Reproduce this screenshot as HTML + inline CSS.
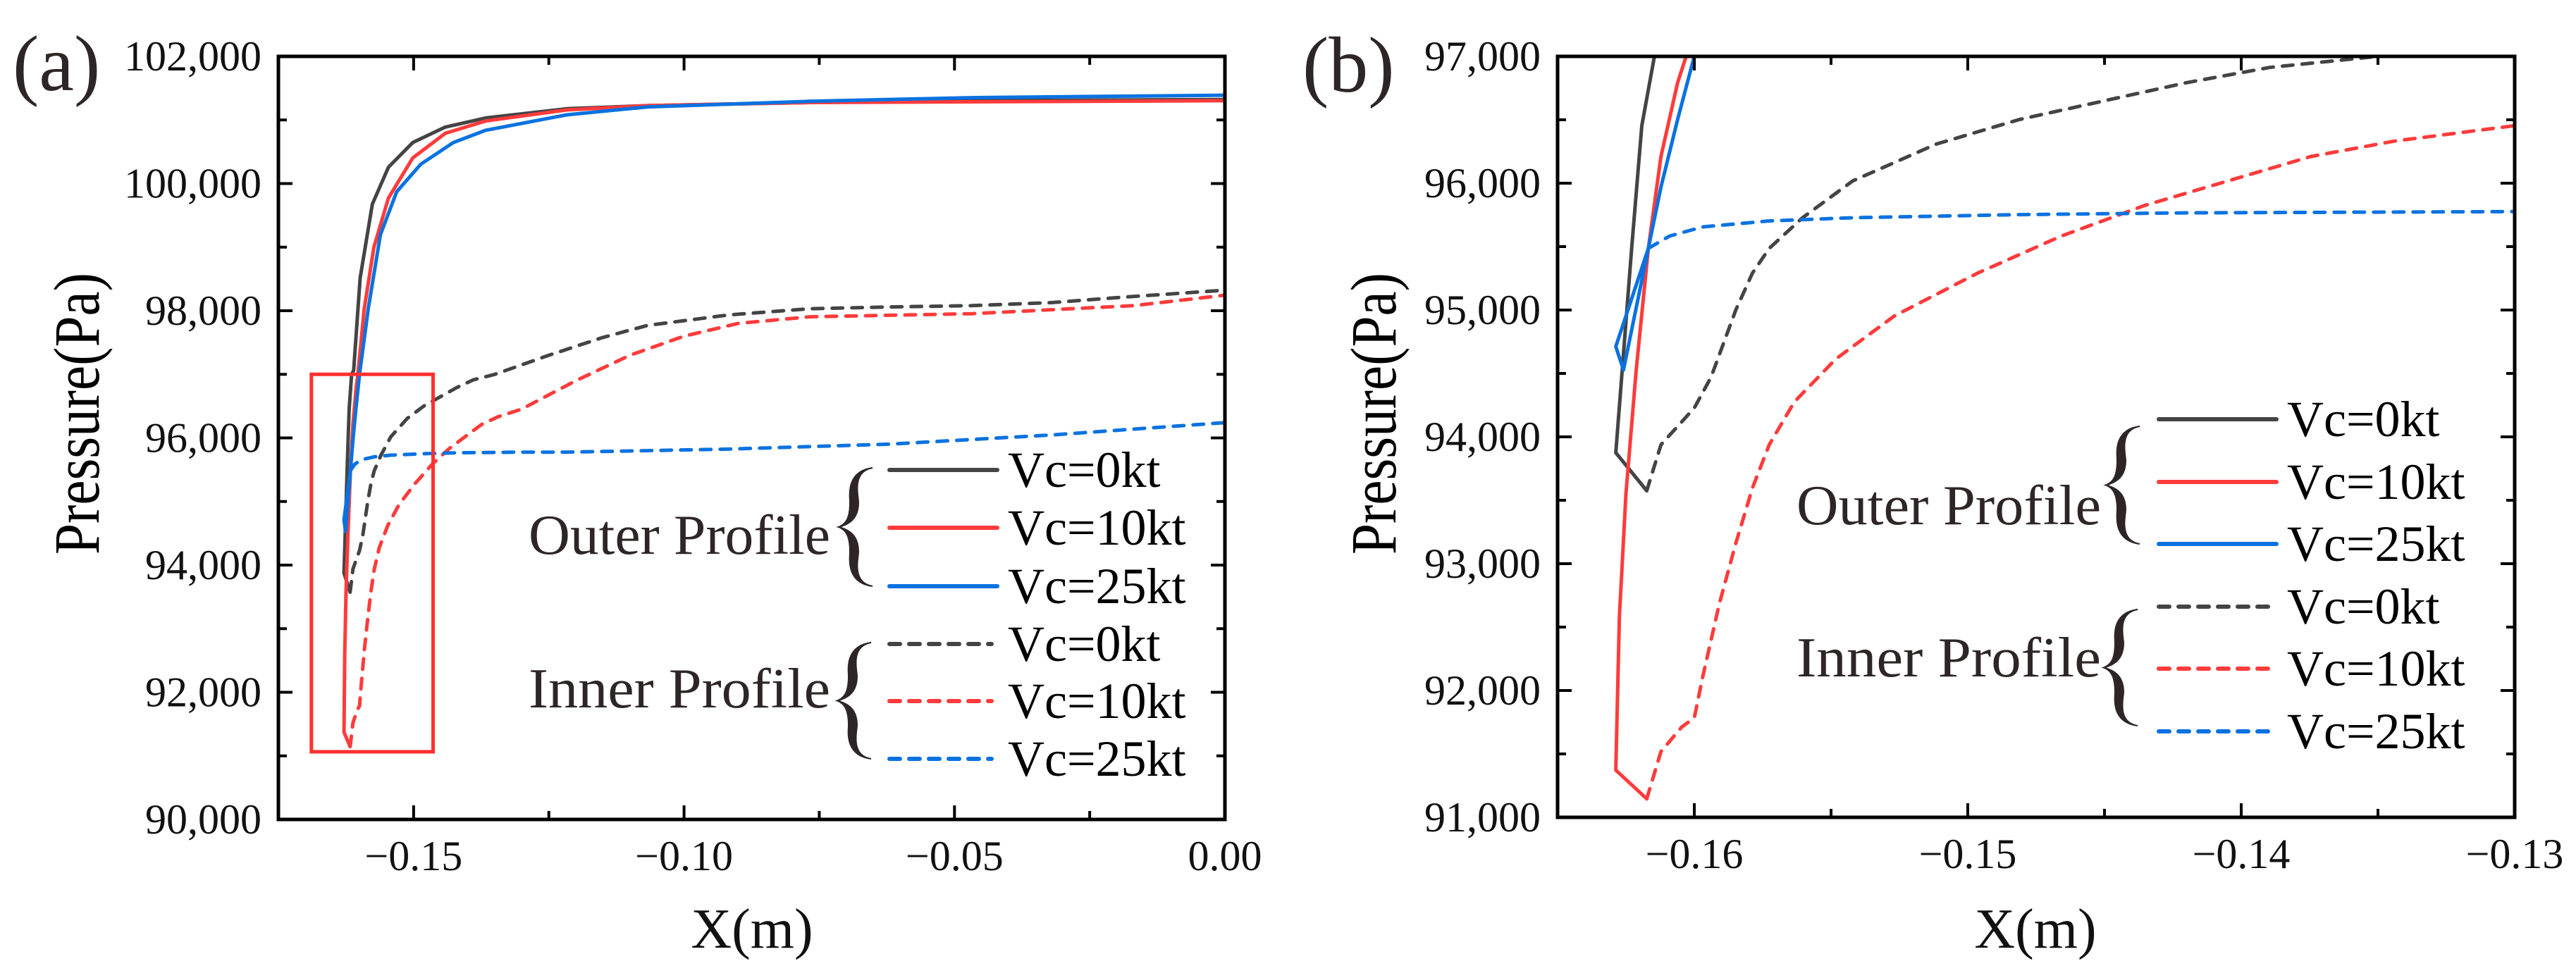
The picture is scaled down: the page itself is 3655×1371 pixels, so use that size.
<!DOCTYPE html>
<html><head><meta charset="utf-8"><style>
html,body{margin:0;padding:0;background:#fff;}
svg{display:block;}
text{font-family:"Liberation Serif","Times New Roman",serif;}
</style></head><body>
<svg id="chart" width="3655" height="1371" viewBox="0 0 3655 1371" xmlns="http://www.w3.org/2000/svg">
<defs>
<clipPath id="clipA"><rect x="395" y="80" width="1343" height="1083"/></clipPath>
<clipPath id="clipB"><rect x="2210" y="80" width="1358" height="1080"/></clipPath>
</defs>
<g id="panelA"></g>
<g id="panelB"></g>
</svg>
<script>
// ---- data (x in m, pressure in Pa) ----
const outer0X = [-0.16174,-0.16287,-0.16229,-0.16192,-0.16146,-0.16108,-0.15988,-0.15763,-0.15464,-0.15015,-0.14416,-0.13668,-0.12171,-0.10674,-0.0768,-0.04686,0];
const outer0Y = [93575,93875,95486,96453,97000,97063,98515,99677,100258,100645,100887,101032,101177,101226,101274,101303,101322];
const outer10X = [-0.16174,-0.16287,-0.16274,-0.1625,-0.16213,-0.16168,-0.16122,-0.16061,-0.1603,-0.15913,-0.15734,-0.15464,-0.15015,-0.14416,-0.13668,-0.12171,-0.10674,-0.0768,0];
const outer10Y = [91146,91373,92583,93551,94518,95486,96211,96792,97000,98031,99000,99774,100403,100790,100984,101158,101226,101274,101303];
const outer25X = [-0.16168,-0.16259,-0.16287,-0.16168,-0.16122,-0.16061,-0.16,-0.15838,-0.15614,-0.15314,-0.14865,-0.14266,-0.13668,-0.12171,-0.10674,-0.0768,-0.0468,0];
const outer25Y = [95486,94528,94712,95486,95970,96502,97000,98031,99193,99870,100306,100645,100838,101080,101206,101293,101351,101390];
const inner0X = [-0.16174,-0.16122,-0.16,-0.15939,-0.15848,-0.15787,-0.15726,-0.15604,-0.15421,-0.15116,-0.14811,-0.14506,-0.14201,-0.13896,-0.135,-0.125,-0.115,-0.10674,-0.09177,-0.0768,-0.06183,-0.04686,-0.0319,-0.01692,0];
const inner0Y = [93575,93938,94228,94470,95002,95292,95486,95728,96018,96308,96502,96647,96792,96913,97000,97300,97580,97770,97934,98031,98060,98080,98128,98225,98322];
const inner10X = [-0.16174,-0.16122,-0.16046,-0.16,-0.1597,-0.15909,-0.15848,-0.15787,-0.15726,-0.15634,-0.15482,-0.15268,-0.14963,-0.14659,-0.14354,-0.14049,-0.13744,-0.13439,-0.13003,-0.12,-0.11,-0.10,-0.09,-0.0768,-0.0468,-0.0169,0];
const inner10Y = [91146,91519,91712,91785,92099,92680,93163,93599,93938,94276,94615,94954,95292,95582,95824,96018,96211,96332,96453,96900,97300,97600,97800,97905,97954,98080,98244];
const inner25X = [-0.16168,-0.16091,-0.1597,-0.15726,-0.15421,-0.14811,-0.14201,-0.13003,-0.12171,-0.0918,-0.0619,-0.032,0];
const inner25Y = [95486,95583,95655,95703,95728,95752,95766,95776,95776,95824,95902,96047,96240];
const boxX = [-0.1689,-0.1464];
const boxY = [91064,97000];
const ticksAX = [-0.15,-0.10,-0.05,0.00];
const ticksAXLabels = ["\u22120.15","\u22120.10","\u22120.05","0.00"];
const ticksAY = [90000,92000,94000,96000,98000,100000,102000];
const ticksAYLabels = ["90,000","92,000","94,000","96,000","98,000","100,000","102,000"];
const ticksBX = [-0.16,-0.15,-0.14,-0.13];
const ticksBXLabels = ["\u22120.16","\u22120.15","\u22120.14","\u22120.13"];
const ticksBY = [91000,92000,93000,94000,95000,96000,97000];
const ticksBYLabels = ["91,000","92,000","93,000","94,000","95,000","96,000","97,000"];

const NS = "http://www.w3.org/2000/svg";
const FONT = '"Liberation Serif", "Times New Roman", serif';
function mk(tag, attrs, parent){const e=document.createElementNS(NS,tag);for(const k in attrs)e.setAttribute(k,attrs[k]);if(tag==="text")e.setAttribute("font-family",FONT);parent.appendChild(e);return e;}

const series = [
 {x:outer0X,y:outer0Y,c:"#444444",d:null,n:"outer-vc0-line"},
 {x:outer10X,y:outer10Y,c:"#ff3b3b",d:null,n:"outer-vc10-line"},
 {x:outer25X,y:outer25Y,c:"#0a72e0",d:null,n:"outer-vc25-line"},
 {x:inner0X,y:inner0Y,c:"#444444",d:"15 13",n:"inner-vc0-line"},
 {x:inner10X,y:inner10Y,c:"#ff3b3b",d:"15 13",n:"inner-vc10-line"},
 {x:inner25X,y:inner25Y,c:"#0a72e0",d:"15 13",n:"inner-vc25-line"}
];

function drawPanel(cfg){
 const g=document.getElementById(cfg.id);
 const sx=v=>cfg.L+(v-cfg.x0)/(cfg.x1-cfg.x0)*(cfg.R-cfg.L);
 const sy=v=>cfg.B-(v-cfg.y0)/(cfg.y1-cfg.y0)*(cfg.B-cfg.T);
 const plot=mk("g",{"clip-path":"url(#"+cfg.clip+")"},g);
 
 
 series.forEach(s=>{
  const pts=s.x.map((v,i)=>sx(v).toFixed(1)+","+sy(s.y[i]).toFixed(1)).join(" ");
  const a={points:pts,fill:"none",stroke:s.c,"stroke-width":5,"stroke-linejoin":"round","stroke-linecap":"round"};
  if(s.d){a["stroke-dasharray"]=s.d;}
  const p=mk("polyline",a,plot);
  
  
 });
 if(cfg.box){
  const r=mk("rect",{x:sx(boxX[0]),y:sy(boxY[1]),width:sx(boxX[1])-sx(boxX[0]),height:sy(boxY[0])-sy(boxY[1]),fill:"none",stroke:"#ff3030","stroke-width":5},g);
  
  
 }
 const tg=mk("g",{stroke:"#000","stroke-width":4},g);
 
 
 const xs=cfg.tx, ys=cfg.ty;
 const xstep=xs[1]-xs[0], ystep=ys[1]-ys[0];
 for(let v=xs[0]-xstep; v<=cfg.x1+1e-9; v+=xstep/2){
  if(v<cfg.x0-1e-9)continue;
  const X=sx(v), major=Math.abs(((v-xs[0])/xstep)-Math.round((v-xs[0])/xstep))<1e-6, len=major?20:12;
  mk("line",{x1:X,y1:cfg.B,x2:X,y2:cfg.B-len},tg);
  mk("line",{x1:X,y1:cfg.T,x2:X,y2:cfg.T+len},tg);
 }
 for(let v=ys[0]; v<=cfg.y1+1e-6; v+=ystep/2){
  const Y=sy(v), major=Math.abs(((v-ys[0])/ystep)-Math.round((v-ys[0])/ystep))<1e-6, len=major?20:12;
  mk("line",{x1:cfg.L,y1:Y,x2:cfg.L+len,y2:Y},tg);
  mk("line",{x1:cfg.R,y1:Y,x2:cfg.R-len,y2:Y},tg);
 }
 const fr=mk("rect",{x:cfg.L,y:cfg.T,width:cfg.R-cfg.L,height:cfg.B-cfg.T,fill:"none",stroke:"#000","stroke-width":5},g);
 
 
 xs.forEach((v,i)=>{
  const t=mk("text",{x:sx(v),y:cfg.B+72,"font-size":60,"text-anchor":"middle",fill:"#111"},g);
  t.textContent=cfg.txl[i];
  
  
 });
 ys.forEach((v,i)=>{
  const t=mk("text",{x:cfg.L-24,y:sy(v)+20,"font-size":60,"text-anchor":"end",fill:"#111"},g);
  t.textContent=cfg.tyl[i];
  
  
 });
}

drawPanel({id:"panelA",clip:"clipA",L:395,R:1738,T:80,B:1163,x0:-0.175,x1:0,y0:90000,y1:102000,tx:ticksAX,txl:ticksAXLabels,ty:ticksAY,tyl:ticksAYLabels,box:true});
drawPanel({id:"panelB",clip:"clipB",L:2210,R:3568,T:80,B:1160,x0:-0.165,x1:-0.13,y0:91000,y1:97000,tx:ticksBX,txl:ticksBXLabels,ty:ticksBY,tyl:ticksBYLabels,box:false});

function decor(id, o){
 const g=document.getElementById(id);
 let t=mk("text",{x:o.px,y:o.py,"font-size":112,fill:"#2e2626"},g); t.textContent=o.lab;
 
 
 t=mk("text",{x:0,y:0,"font-size":92,"text-anchor":"middle",fill:"#000",textLength:400,lengthAdjust:"spacingAndGlyphs",transform:"translate("+o.yx+","+o.yy+") rotate(-90)"},g); t.textContent="Pressure(Pa)";
 
 
 t=mk("text",{x:o.xx,y:1345,"font-size":80,"text-anchor":"middle",fill:"#111"},g); t.textContent="X(m)";
 
 
 const lg=mk("g",{},g);
 
 
 const labels=["Vc=0kt","Vc=10kt","Vc=25kt","Vc=0kt","Vc=10kt","Vc=25kt"];
 o.rows.forEach((y,i)=>{
  const s=series[i];
  const a={x1:o.l0,y1:y,x2:i<3?o.l1:o.l1-8,y2:y,stroke:s.c,"stroke-width":6,"stroke-linecap":"round"};
  if(s.d)a["stroke-dasharray"]="15 13";
  const ln=mk("line",a,lg);
  
  
  const tx=mk("text",{x:o.tx,y:y+24,"font-size":72,fill:"#000"},lg); tx.textContent=labels[i];
  
  
 });
 [["Outer Profile",o.oy,o.ob],["Inner Profile",o.iy,o.ib]].forEach(([txt,y,b])=>{
  const tt=mk("text",{x:o.gx,y:y+26,"font-size":80,fill:"#2e2626",textLength:o.gw,lengthAdjust:"spacingAndGlyphs"},lg); tt.textContent=txt;
  
  
  const x=b[0], y0=b[1], y1=b[2], m=(y0+y1)/2, w=48;
  const d=`M${x+w},${y0} C${x+18},${y0+5} ${x+28},${y0+40} ${x+28},${m-35} C${x+28},${m-12} ${x+15},${m-4} ${x},${m} C${x+15},${m+4} ${x+28},${m+12} ${x+28},${m+35} C${x+28},${y1-40} ${x+18},${y1-5} ${x+w},${y1} C${x+10},${y1-5} ${x+16},${y1-40} ${x+16},${m+35} C${x+16},${m+12} ${x+10},${m+4} ${x},${m} C${x+10},${m-4} ${x+16},${m-12} ${x+16},${m-35} C${x+16},${y0+40} ${x+10},${y0+5} ${x+w},${y0} Z`;
  const br=mk("path",{d:d,fill:"#2e2626",stroke:"#2e2626","stroke-width":2},lg);
  
  
 });
}
decor("panelA",{lab:"(a)",px:18,py:128,yx:140,yy:587,xx:1067,rows:[667,749,832,914,995,1077],l0:1262,l1:1415,tx:1430,gx:750,gw:428,oy:760,iy:978,ob:[1190,664,832],ib:[1188,912,1077]});
decor("panelB",{lab:"(b)",px:1848,py:130,yx:1980,yy:587,xx:2888,rows:[595,684,772,861,949,1038],l0:3063,l1:3230,tx:3245,gx:2549,gw:432,oy:718,iy:934,ob:[2988,605,772],ib:[2985,865,1030]});
</script>
</body></html>
